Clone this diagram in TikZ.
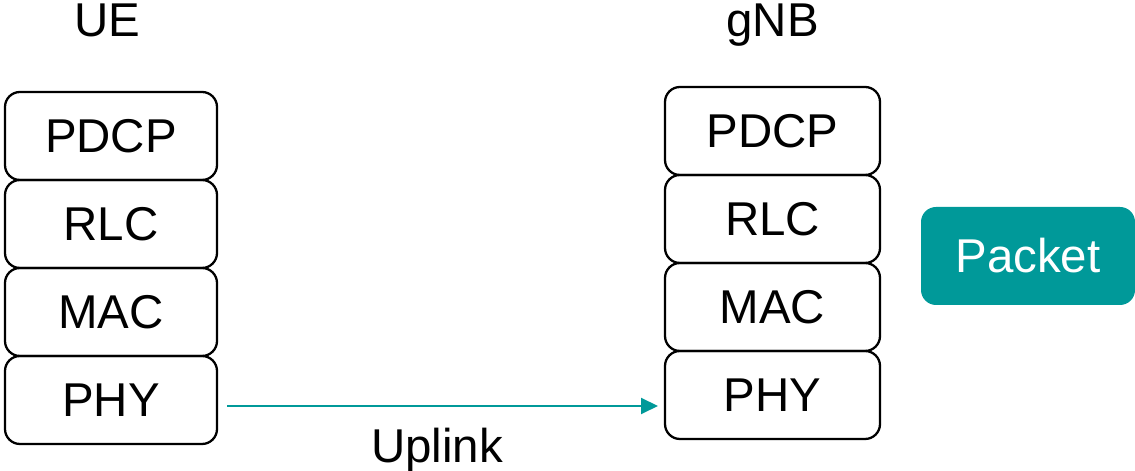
\documentclass[tikz,border=0pt]{standalone}
\usepackage{fontspec}
\setmainfont{Liberation Sans}
\usepackage{tikz}
\usetikzlibrary{arrows.meta,positioning}
\definecolor{Teal}{HTML}{009999}

\begin{document}
\begin{tikzpicture}[
      layer/.style={draw=black,line width=1.3pt,rounded corners=0.3cm,
        minimum width=4.24cm,minimum height=1.76cm,outer sep=0pt,
        font=\fontsize{27}{32}\selectfont},
      title/.style={font=\fontsize{27}{32}\selectfont,anchor=base},
      uplink/.style={-{Triangle[length=0.34cm,width=0.32cm]},line width=1.1pt,Teal}
    ]
      \useasboundingbox (0,0) rectangle (22.7,9.42);
      % UE stack
      \node[title] (ue) at (2.14,8.68) {UE};
      \node[layer] (ue-pdcp) at (2.22,6.70) {PDCP};
      \node[layer,below=0pt of ue-pdcp] (ue-rlc) {RLC};
      \node[layer,below=0pt of ue-rlc] (ue-mac) {MAC};
      \node[layer,below=0pt of ue-mac] (ue-phy) {PHY};
      % gNB stack
      \node[title] (gnb) at (15.45,8.68) {gNB};
      \node[layer,minimum width=4.3cm] (gnb-pdcp) at (15.45,6.80) {PDCP};
      \node[layer,minimum width=4.3cm,below=0pt of gnb-pdcp] (gnb-rlc) {RLC};
      \node[layer,minimum width=4.3cm,below=0pt of gnb-rlc] (gnb-mac) {MAC};
      \node[layer,minimum width=4.3cm,below=0pt of gnb-mac] (gnb-phy) {PHY};
      % packet
      \node[fill=Teal,rounded corners=0.3cm,minimum width=4.28cm,minimum height=1.96cm,
        text=white,font=\fontsize{27}{32}\selectfont] (packet) at (20.56,4.30) {Packet};
      % uplink transmission
      \coordinate (ul-start) at ([xshift=0.2cm,yshift=-0.12cm]ue-phy.east);
      \coordinate (ul-end) at ([xshift=-0.14cm]gnb-phy.west |- ul-start);
      \draw[uplink] (ul-start) -- (ul-end);
      \node[title] (ul-label) at (8.74,0.16) {Uplink};
    \end{tikzpicture}
\end{document}
